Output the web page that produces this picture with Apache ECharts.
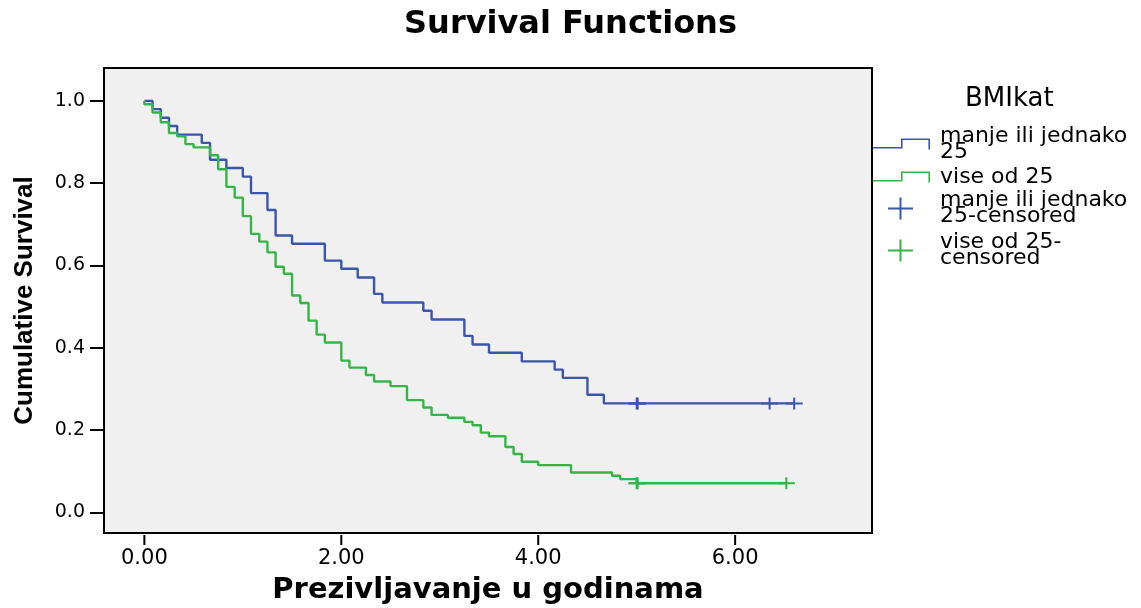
<!DOCTYPE html>
<html>
<head>
<meta charset="utf-8">
<script src="https://cdn.jsdelivr.net/npm/echarts@6/dist/echarts.min.js"></script>
<style>html,body{margin:0;padding:0;background:#fff}#c{width:1141px;height:608px}</style>
</head>
<body>
<div id="c"></div>
<script>
const titleText = 'Survival Functions';
const xName = 'Prezivljavanje u godinama';
const yName = 'Cumulative Survival';
const legendTitle = 'BMIkat';
const groupNames = ['manje ili jednako 25', 'vise od 25'];
const censorNames = ['manje ili jednako 25-censored', 'vise od 25-censored'];
const legendLabels = {
  'manje ili jednako 25': 'manje ili jednako\n25',
  'vise od 25': 'vise od 25',
  'manje ili jednako 25-censored': 'manje ili jednako\n25-censored',
  'vise od 25-censored': 'vise od 25-\ncensored'
};
const xTicks = [0, 2, 4, 6];
const xTickLabels = ['0.00', '2.00', '4.00', '6.00'];
const yTicks = [0, 0.2, 0.4, 0.6, 0.8, 1.0];
const yTickLabels = ['0.0', '0.2', '0.4', '0.6', '0.8', '1.0'];

// survival time (years) and cumulative survival, group "manje ili jednako 25"
const blueTime = [0, 0.083, 0.167, 0.25, 0.333, 0.583, 0.667, 0.833, 1.0, 1.083, 1.25, 1.333, 1.5, 1.833, 2.0, 2.167, 2.333, 2.417, 2.833, 2.917, 3.25, 3.333, 3.5, 3.833, 4.167, 4.25, 4.5, 4.667, 6.6];
const blueSurv = [1.0, 0.980, 0.959, 0.939, 0.918, 0.898, 0.857, 0.837, 0.816, 0.776, 0.735, 0.673, 0.653, 0.612, 0.592, 0.571, 0.531, 0.510, 0.490, 0.469, 0.429, 0.408, 0.388, 0.367, 0.347, 0.327, 0.286, 0.265, 0.265];
// group "vise od 25"
const greenTime = [0, 0, 0.083, 0.167, 0.25, 0.333, 0.417, 0.5, 0.667, 0.75, 0.833, 0.917, 1.0, 1.083, 1.167, 1.25, 1.333, 1.417, 1.5, 1.583, 1.667, 1.75, 1.833, 2.0, 2.083, 2.25, 2.333, 2.5, 2.667, 2.833, 2.917, 3.083, 3.25, 3.333, 3.417, 3.5, 3.667, 3.75, 3.833, 4.0, 4.333, 4.75, 4.833, 5.0, 6.52];
const greenSurv = [1.0, 0.992, 0.972, 0.948, 0.922, 0.914, 0.895, 0.887, 0.868, 0.834, 0.791, 0.765, 0.720, 0.677, 0.658, 0.632, 0.597, 0.580, 0.527, 0.509, 0.466, 0.432, 0.413, 0.369, 0.352, 0.334, 0.318, 0.307, 0.273, 0.255, 0.237, 0.230, 0.220, 0.212, 0.194, 0.185, 0.159, 0.142, 0.123, 0.115, 0.097, 0.089, 0.081, 0.071, 0.071];
// censored observations
const blueCensorTime = [5.0, 5.01, 6.35, 6.6];
const blueCensorSurv = [0.265, 0.265, 0.265, 0.265];
const greenCensorTime = [5.0, 5.01, 6.52];
const greenCensorSurv = [0.071, 0.071, 0.071];

const BLUE = '#3a56ab';
const GREEN = '#35b447';
const STEP_ICON = 'path://M0,8.4 L28,8.4 L28,0 L57,0 L57,11 L55.4,11 L55.4,1.6 L29.6,1.6 L29.6,10 L0,10 Z';
const PLUS_ICON = 'path://M11.5,0 L13.5,0 L13.5,10 L25,10 L25,12 L13.5,12 L13.5,22 L11.5,22 L11.5,12 L0,12 L0,10 L11.5,10 Z';
const PLUS_MARK = 'path://M7.5,0 L9.5,0 L9.5,5 L17,5 L17,7 L9.5,7 L9.5,12 L7.5,12 L7.5,7 L0,7 L0,5 L7.5,5 Z';

const pairs = (xs, ys) => xs.map((x, i) => [x, ys[i]]);
const legendText = (padLeft) => ({fontFamily: 'DejaVu Sans', fontSize: 22, lineHeight: 16, color: '#000',
                                  padding: [0, 0, 0, padLeft]});

const chart = echarts.init(document.getElementById('c'));
chart.setOption({
  animation: false,
  backgroundColor: '#ffffff',
  title: [
    {text: titleText, left: 'center', top: 9, padding: 0,
     textStyle: {fontFamily: 'DejaVu Sans', fontWeight: 'bold', fontSize: 32, color: '#000'}},
    {text: legendTitle, left: 965, top: 86, padding: 0,
     textStyle: {fontFamily: 'DejaVu Sans', fontWeight: 'normal', fontSize: 26, color: '#000'}}
  ],
  legend: [
    {data: groupNames, orient: 'vertical', left: 873, top: 125, padding: 0,
     itemWidth: 57, itemHeight: 11, itemGap: 3, icon: STEP_ICON,
     itemStyle: {borderWidth: 0}, selectedMode: false, textStyle: legendText(5),
     formatter: n => legendLabels[n]},
    {data: censorNames, orient: 'vertical', left: 888, top: 189.5, padding: 0,
     itemWidth: 25, itemHeight: 22, itemGap: 4, icon: PLUS_ICON,
     itemStyle: {borderWidth: 0, opacity: 1}, selectedMode: false, textStyle: legendText(22),
     formatter: n => legendLabels[n]}
  ],
  grid: {left: 104, right: 269, top: 68, bottom: 75, show: true, outerBoundsMode: 'none', containLabel: false,
         backgroundColor: '#f0f0f0', borderColor: '#000', borderWidth: 2},
  xAxis: {
    type: 'value', min: -0.41, max: 7.39, position: 'bottom',
    axisLine: {show: false, onZero: false}, splitLine: {show: false},
    axisTick: {show: false},
    axisLabel: {customValues: xTicks, formatter: v => xTickLabels[xTicks.indexOf(v)] ?? '',
                fontFamily: 'DejaVu Sans', fontSize: 21, color: '#000', margin: 15},
    name: xName, nameLocation: 'middle', nameGap: 43,
    nameTextStyle: {fontFamily: 'DejaVu Sans', fontWeight: 'bold', fontSize: 29, color: '#000'}
  },
  yAxis: {
    type: 'value', min: -0.05, max: 1.08,
    axisLine: {show: false, onZero: false}, splitLine: {show: false},
    axisTick: {show: true, customValues: yTicks, length: 14, lineStyle: {color: '#000', width: 2}},
    axisLabel: {customValues: yTicks, formatter: v => yTickLabels[yTicks.indexOf(v)] ?? '',
                fontFamily: 'DejaVu Sans', fontSize: 19, color: '#000', margin: 19},
    name: yName, nameLocation: 'middle', nameGap: 66,
    nameTextStyle: {fontFamily: 'Liberation Sans', fontWeight: 'bold', fontSize: 26, color: '#000'}
  },
  series: [
    {type: 'line', name: groupNames[0], data: pairs(blueTime, blueSurv), step: 'end',
     showSymbol: false, symbol: 'none', lineStyle: {width: 2.4, color: BLUE}, itemStyle: {color: BLUE}, z: 2},
    {type: 'line', name: groupNames[1], data: pairs(greenTime, greenSurv), step: 'end',
     showSymbol: false, symbol: 'none', lineStyle: {width: 2.4, color: GREEN}, itemStyle: {color: GREEN}, z: 2},
    {type: 'scatter', name: censorNames[0], data: pairs(blueCensorTime, blueCensorSurv),
     symbol: PLUS_MARK, symbolSize: [17, 12], itemStyle: {color: BLUE, opacity: 1}, z: 3},
    {type: 'scatter', name: censorNames[1], data: pairs(greenCensorTime, greenCensorSurv),
     symbol: PLUS_MARK, symbolSize: [17, 12], itemStyle: {color: GREEN, opacity: 1}, z: 3}
  ]
});

// x-axis tick marks just below the plot frame, placed through the x scale
(function () {
  let bottom = 533;
  try {
    const r = chart.getModel().getComponent('grid', 0).coordinateSystem.getRect();
    bottom = r.y + r.height;
  } catch (e) {}
  const tickEls = xTicks.map(v => {
    const px = chart.convertToPixel({xAxisIndex: 0}, v);
    return {type: 'line', z: 100, silent: true,
            shape: {x1: px, y1: bottom + 2, x2: px, y2: bottom + 12},
            style: {stroke: '#000', lineWidth: 2}};
  });
  chart.setOption({graphic: tickEls});
})();
</script>
</body>
</html>
